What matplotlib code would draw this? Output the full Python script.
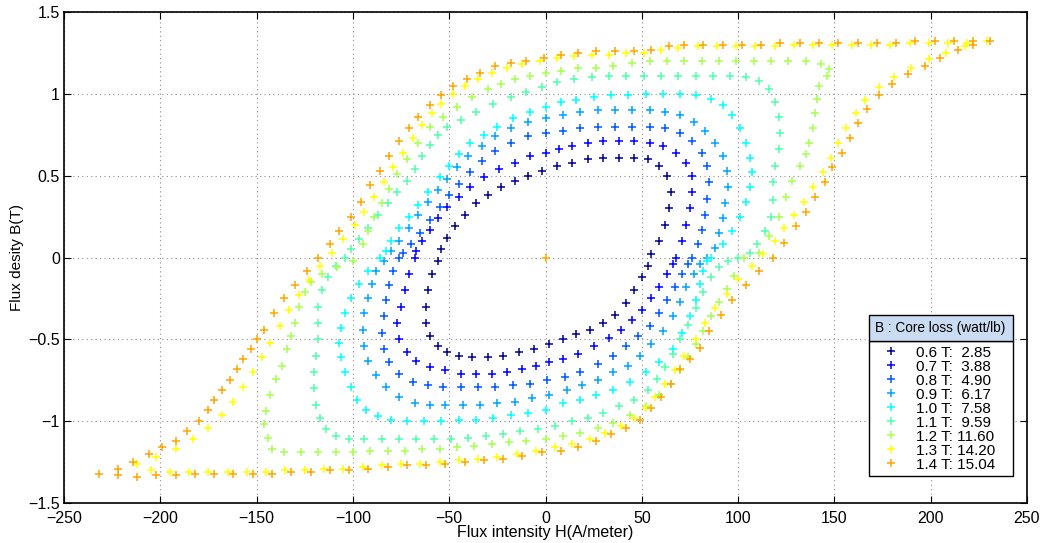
import matplotlib
matplotlib.use("Agg")
import matplotlib.pyplot as plt
from matplotlib.patches import Rectangle

# (H [A/m], B [T]) readings taken along each hysteresis loop
loop_06 = [
    (55, 0.02), (59, 0.10), (62, 0.20), (64, 0.30), (65, 0.40), (63, 0.50), (59, 0.56), (53, 0.60),
    (46, 0.61), (38, 0.61), (30, 0.61), (22, 0.60), (14, 0.58), (6, 0.56), (-2, 0.53), (-9, 0.50),
    (-16, 0.47), (-23, 0.43), (-30, 0.38), (-36, 0.33), (-42, 0.26), (-47, 0.19), (-51, 0.12), (-54, 0.05),
    (-56, -0.02), (-59, -0.10), (-61, -0.20), (-62, -0.30), (-62, -0.40), (-60, -0.48), (-56, -0.54), (-51, -0.58),
    (-45, -0.60), (-38, -0.61), (-30, -0.61), (-22, -0.60), (-14, -0.58), (-6, -0.56), (2, -0.53), (9, -0.50),
    (16, -0.47), (23, -0.44), (30, -0.40), (36, -0.35), (42, -0.28), (46, -0.20), (50, -0.12), (53, -0.05),
]
loop_07 = [
    (68, 0.00), (71, 0.10), (73, 0.20), (75, 0.30), (76, 0.40), (76, 0.50), (73, 0.58), (68, 0.64),
    (61, 0.68), (54, 0.70), (46, 0.71), (38, 0.71), (30, 0.71), (22, 0.70), (14, 0.68), (7, 0.66),
    (0, 0.64), (-8, 0.62), (-16, 0.58), (-24, 0.54), (-32, 0.49), (-39, 0.43), (-45, 0.37), (-51, 0.31),
    (-56, 0.24), (-60, 0.17), (-64, 0.10), (-67, 0.04),
    (-68, 0.00), (-71, -0.10), (-73, -0.20), (-75, -0.30), (-77, -0.40), (-76, -0.50), (-72, -0.58), (-67, -0.63),
    (-60, -0.67), (-52, -0.69), (-44, -0.71), (-36, -0.71), (-28, -0.71), (-20, -0.70), (-12, -0.68), (-5, -0.66),
    (2, -0.64), (9, -0.62), (17, -0.59), (25, -0.54), (33, -0.49), (39, -0.44), (45, -0.38), (50, -0.32),
    (55, -0.25), (59, -0.18), (63, -0.10), (66, -0.04),
]
loop_08 = [
    (76, 0.00), (79, 0.08), (81, 0.17), (83, 0.26), (84, 0.36), (85, 0.46), (84, 0.56), (81, 0.64),
    (76, 0.71), (70, 0.76), (62, 0.79), (54, 0.80), (45, 0.80), (36, 0.80), (27, 0.80), (18, 0.79),
    (9, 0.77), (0, 0.76), (-9, 0.74), (-18, 0.70), (-26, 0.65), (-33, 0.59), (-39, 0.52), (-45, 0.45),
    (-50, 0.38), (-55, 0.31), (-60, 0.23), (-65, 0.15), (-70, 0.08), (-74, 0.03),
    (-76, 0.00), (-79, -0.08), (-81, -0.17), (-83, -0.26), (-84, -0.36), (-85, -0.46), (-84, -0.56), (-81, -0.64),
    (-76, -0.71), (-69, -0.76), (-61, -0.78), (-53, -0.79), (-44, -0.79), (-35, -0.79), (-26, -0.79), (-17, -0.78),
    (-8, -0.77), (1, -0.75), (10, -0.73), (18, -0.70), (27, -0.65), (35, -0.60), (42, -0.54), (48, -0.48),
    (54, -0.42), (59, -0.34), (63, -0.26), (67, -0.18), (71, -0.10), (74, -0.04),
]
loop_09 = [
    (84, 0.00), (88, 0.06), (90, 0.15), (92, 0.24), (93, 0.33), (95, 0.43), (94, 0.53), (92, 0.62),
    (88, 0.70), (83, 0.77), (77, 0.83), (70, 0.87), (62, 0.89), (54, 0.90), (45, 0.90), (36, 0.90),
    (27, 0.90), (18, 0.89), (9, 0.87), (0, 0.85), (-9, 0.83), (-18, 0.79), (-26, 0.74), (-33, 0.68),
    (-40, 0.62), (-46, 0.55), (-51, 0.48), (-56, 0.41), (-61, 0.34), (-66, 0.26), (-71, 0.18), (-76, 0.10),
    (-80, 0.04),
    (-84, -0.02), (-88, -0.08), (-90, -0.16), (-92, -0.25), (-94, -0.34), (-95, -0.44), (-94, -0.54), (-92, -0.63),
    (-88, -0.72), (-83, -0.79), (-76, -0.85), (-68, -0.89), (-60, -0.90), (-52, -0.90), (-43, -0.90), (-34, -0.90),
    (-25, -0.89), (-16, -0.88), (-7, -0.86), (2, -0.84), (11, -0.81), (19, -0.78), (27, -0.75), (35, -0.70),
    (43, -0.66), (49, -0.60), (55, -0.53), (61, -0.45), (66, -0.36), (70, -0.27), (73, -0.18), (77, -0.10),
    (80, -0.04),
]
loop_10 = [
    (86, 0.00), (92, 0.08), (97, 0.16), (101, 0.25), (104, 0.34), (106, 0.43), (107, 0.52), (106, 0.61),
    (104, 0.70), (101, 0.79), (97, 0.87), (92, 0.93), (86, 0.97), (78, 0.99), (70, 1.00), (61, 1.00),
    (52, 1.00), (43, 0.99), (34, 0.99), (25, 0.98), (16, 0.96), (8, 0.95), (0, 0.92), (-8, 0.89),
    (-17, 0.85), (-25, 0.80), (-32, 0.75), (-39, 0.70), (-45, 0.63), (-50, 0.56), (-55, 0.49), (-61, 0.40),
    (-66, 0.32), (-71, 0.25), (-76, 0.18), (-80, 0.10), (-83, 0.04),
    (-86, 0.00), (-92, -0.08), (-97, -0.16), (-101, -0.25), (-104, -0.34), (-106, -0.43), (-107, -0.52), (-106, -0.61),
    (-104, -0.70), (-101, -0.79), (-98, -0.87), (-93, -0.93), (-87, -0.97), (-80, -0.99), (-72, -1.00), (-63, -1.00),
    (-54, -1.00), (-45, -0.99), (-36, -0.99), (-27, -0.98), (-18, -0.96), (-9, -0.95), (0, -0.93), (9, -0.89),
    (18, -0.87), (26, -0.84), (35, -0.81), (44, -0.76), (52, -0.70), (59, -0.64), (66, -0.56), (71, -0.46),
    (75, -0.36), (78, -0.26), (80, -0.16), (82, -0.08), (84, -0.02),
]
loop_11 = [
    (100, 0.00), (106, 0.03), (110, 0.08), (114, 0.16), (117, 0.25), (118, 0.35), (118, 0.46), (119, 0.56),
    (121, 0.66), (122, 0.76), (121, 0.86), (119, 0.95), (116, 1.03), (111, 1.08), (104, 1.10), (96, 1.11),
    (87, 1.11), (78, 1.11), (69, 1.11), (60, 1.11), (51, 1.11), (42, 1.11), (33, 1.11), (24, 1.10),
    (15, 1.09), (6, 1.07), (-2, 1.04), (-10, 1.01), (-18, 0.98), (-27, 0.94), (-36, 0.89), (-44, 0.84),
    (-51, 0.80), (-56, 0.75), (-60, 0.69), (-64, 0.62), (-68, 0.54), (-72, 0.47), (-77, 0.40), (-82, 0.33),
    (-87, 0.26), (-92, 0.18), (-97, 0.11), (-101, 0.05),
    (-104, 0.00), (-109, -0.05), (-113, -0.12), (-116, -0.20), (-118, -0.30), (-118, -0.40), (-118, -0.50), (-119, -0.60),
    (-120, -0.70), (-120, -0.80), (-119, -0.90), (-117, -0.98), (-114, -1.05), (-109, -1.09), (-102, -1.11), (-94, -1.11),
    (-85, -1.11), (-76, -1.11), (-67, -1.11), (-58, -1.11), (-49, -1.11), (-40, -1.10), (-31, -1.09), (-22, -1.08),
    (-13, -1.06), (-4, -1.05), (5, -1.03), (14, -1.00), (22, -0.98), (30, -0.95), (38, -0.91), (46, -0.87),
    (53, -0.81), (58, -0.74), (62, -0.67), (66, -0.59), (70, -0.50), (74, -0.41), (78, -0.31), (82, -0.21),
    (86, -0.12), (90, -0.06), (95, -0.02),
]
loop_12 = [
    (103, 0.00), (111, 0.03), (116, 0.13), (121, 0.25), (125, 0.37), (128, 0.47), (132, 0.56), (135, 0.63),
    (137, 0.70), (139, 0.79), (140, 0.88), (141, 0.97), (142, 1.05), (146, 1.11), (147, 1.15), (143, 1.18),
    (135, 1.20), (126, 1.20), (117, 1.20), (108, 1.20), (99, 1.20), (90, 1.20), (81, 1.20), (72, 1.20),
    (63, 1.20), (54, 1.20), (45, 1.19), (35, 1.17), (26, 1.16), (17, 1.16), (8, 1.14), (0, 1.13),
    (-8, 1.11), (-16, 1.09), (-23, 1.06), (-30, 1.03), (-38, 0.98), (-46, 0.92), (-53, 0.86), (-60, 0.80),
    (-66, 0.70), (-72, 0.60), (-77, 0.51), (-81, 0.42), (-85, 0.33), (-89, 0.25), (-92, 0.16), (-95, 0.08),
    (-100, -0.02), (-108, -0.06), (-116, -0.10), (-122, -0.15), (-125, -0.21), (-128, -0.30), (-130, -0.40), (-132, -0.48),
    (-134, -0.56), (-137, -0.66), (-140, -0.74), (-143, -0.84), (-145, -0.94), (-146, -1.02), (-144, -1.10), (-142, -1.17),
    (-136, -1.19), (-127, -1.19), (-118, -1.19), (-109, -1.19), (-100, -1.19), (-91, -1.18), (-82, -1.18), (-73, -1.18),
    (-64, -1.17), (-55, -1.17), (-46, -1.16), (-37, -1.15), (-28, -1.14), (-19, -1.13), (-10, -1.12), (0, -1.11),
    (9, -1.09), (18, -1.07), (27, -1.04), (35, -1.01), (44, -0.96), (52, -0.91), (59, -0.84), (65, -0.77),
    (70, -0.69), (74, -0.61), (78, -0.53), (82, -0.45), (86, -0.36), (90, -0.27), (94, -0.19), (98, -0.11),
]
loop_13 = [
    (229, 1.32), (219, 1.31), (209, 1.31), (199, 1.31), (189, 1.31), (179, 1.30), (169, 1.30), (159, 1.30),
    (149, 1.30), (139, 1.30), (129, 1.30), (119, 1.29), (109, 1.29), (99, 1.29), (89, 1.29), (79, 1.29),
    (69, 1.28), (60, 1.27), (51, 1.25), (42, 1.25), (33, 1.24), (24, 1.24), (15, 1.23), (6, 1.22),
    (-3, 1.20), (-12, 1.18), (-20, 1.16), (-28, 1.13), (-35, 1.09), (-42, 1.05), (-48, 1.00), (-54, 0.94),
    (-59, 0.88), (-64, 0.81), (-69, 0.73), (-74, 0.64), (-79, 0.55), (-84, 0.46), (-89, 0.37), (-94, 0.28),
    (-99, 0.20), (-105, 0.11), (-111, 0.03), (-117, -0.05), (-123, -0.14), (-128, -0.23), (-133, -0.32), (-138, -0.42),
    (-143, -0.52), (-147, -0.61), (-152, -0.70), (-157, -0.79), (-162, -0.88), (-168, -0.96), (-175, -1.04), (-183, -1.11),
    (-192, -1.17), (-202, -1.22), (-212, -1.26),
    (-205, -1.30), (-195, -1.31), (-185, -1.31), (-175, -1.31), (-165, -1.31), (-155, -1.31), (-145, -1.31), (-135, -1.30),
    (-125, -1.30), (-115, -1.29), (-105, -1.29), (-95, -1.28), (-85, -1.27), (-75, -1.26), (-65, -1.26), (-55, -1.25),
    (-45, -1.24), (-35, -1.23), (-25, -1.22), (-15, -1.20), (-5, -1.18), (5, -1.16), (14, -1.14), (23, -1.11),
    (31, -1.07), (39, -1.03), (46, -0.98), (52, -0.92), (57, -0.85), (62, -0.77), (67, -0.69), (72, -0.60),
    (78, -0.50), (83, -0.40), (88, -0.31), (94, -0.22), (100, -0.13), (107, -0.05), (113, 0.02), (119, 0.10),
    (124, 0.18), (129, 0.26), (134, 0.34), (139, 0.43), (144, 0.52), (148, 0.61), (152, 0.70), (156, 0.79),
    (161, 0.88), (166, 0.96), (173, 1.04), (181, 1.10), (190, 1.16), (199, 1.21), (208, 1.25), (218, 1.29),
]
loop_14 = [
    (231, 1.32), (222, 1.32), (212, 1.32), (202, 1.32), (192, 1.32), (182, 1.31), (172, 1.31), (162, 1.31),
    (152, 1.31), (142, 1.31), (132, 1.31), (122, 1.31), (112, 1.30), (102, 1.30), (92, 1.30), (82, 1.30),
    (72, 1.30), (64, 1.29), (55, 1.27), (46, 1.26), (36, 1.26), (26, 1.26), (17, 1.25), (8, 1.24),
    (-1, 1.22), (-10, 1.20), (-18, 1.19), (-26, 1.17), (-34, 1.13), (-41, 1.09), (-48, 1.05), (-54, 0.99),
    (-60, 0.93), (-66, 0.86), (-71, 0.79), (-76, 0.71), (-81, 0.62), (-86, 0.53), (-91, 0.44), (-96, 0.34),
    (-101, 0.25), (-107, 0.16), (-112, 0.08), (-118, 0.00), (-124, -0.08), (-130, -0.17), (-136, -0.25), (-141, -0.34),
    (-146, -0.44), (-150, -0.50), (-153, -0.56), (-157, -0.62), (-160, -0.68), (-164, -0.75), (-168, -0.81), (-172, -0.87),
    (-175, -0.93), (-180, -1.00), (-186, -1.06), (-192, -1.12), (-199, -1.16), (-206, -1.20), (-214, -1.25), (-222, -1.29),
    (-232, -1.32),
    (-222, -1.33), (-212, -1.34), (-202, -1.33), (-192, -1.33), (-182, -1.32), (-172, -1.32), (-162, -1.32), (-152, -1.32),
    (-142, -1.32), (-132, -1.31), (-122, -1.31), (-112, -1.30), (-102, -1.30), (-92, -1.29), (-82, -1.28), (-72, -1.27),
    (-62, -1.27), (-52, -1.26), (-42, -1.25), (-32, -1.24), (-22, -1.23), (-12, -1.21), (-2, -1.19), (8, -1.18),
    (17, -1.16), (26, -1.12), (34, -1.08), (42, -1.04), (49, -0.99), (55, -0.92), (60, -0.85), (65, -0.77),
    (70, -0.68), (75, -0.62), (80, -0.55), (85, -0.45), (91, -0.35), (97, -0.26), (104, -0.17), (111, -0.08),
    (118, 0.00), (124, 0.09), (130, 0.19), (135, 0.28), (140, 0.37), (145, 0.46), (149, 0.55), (154, 0.64),
    (158, 0.73), (162, 0.82), (167, 0.91), (173, 0.99), (180, 1.06), (188, 1.12), (197, 1.17), (205, 1.22),
    (214, 1.27), (222, 1.30),
]
stray_points = [(0, 0)]

loops = [loop_06, loop_07, loop_08, loop_09, loop_10, loop_11, loop_12, loop_13, loop_14]
labels = ["0.6 T:  2.85", "0.7 T:  3.88", "0.8 T:  4.90", "0.9 T:  6.17", "1.0 T:  7.58",
          "1.1 T:  9.59", "1.2 T: 11.60", "1.3 T: 14.20", "1.4 T: 15.04"]
colors = ["#00008f", "#0000ff", "#0058ff", "#00a4ff", "#00ffff",
          "#50ffae", "#a6ff52", "#ffff00", "#ffa600"]

W, H = 1051, 543
fig = plt.figure(figsize=(W / 100, H / 100), dpi=100)
ax = fig.add_axes([64 / W, 40 / H, 963 / W, 491 / H])

handles = []
for pts, lab, col in zip(loops, labels, colors):
    hs = [p[0] for p in pts]
    bs = [p[1] for p in pts]
    ln, = ax.plot(hs, bs, linestyle="none", marker="+", ms=6, mew=1.1, color=col, label=lab)
    handles.append(ln)
ax.plot([p[0] for p in stray_points], [p[1] for p in stray_points], linestyle="none",
        marker="+", ms=6, mew=1.1, color=colors[-1])

ax.set_xlim(-250, 250)
ax.set_ylim(-1.5, 1.5)
xt = list(range(-250, 251, 50))
ax.set_xticks(xt)
ax.set_xticklabels([str(v).replace("-", "\u2212") for v in xt],
                   family=["Liberation Sans Narrow", "Liberation Sans"], fontsize=11.5)
yt = [-1.5, -1, -0.5, 0, 0.5, 1, 1.5]
ax.set_yticks(yt)
ax.set_yticklabels(["\u22121.5", "\u22121", "\u22120.5", "0", "0.5", "1", "1.5"],
                   family="Liberation Sans", fontsize=11.5)
ax.tick_params(direction="in", top=True, right=True, length=5, width=0.8)
ax.tick_params(axis="x", pad=6)
ax.tick_params(axis="y", pad=3)
ax.grid(True, linestyle=(0, (1, 3)), color="#8c8c8c", linewidth=0.8)
ax.set_axisbelow(True)
for s in ax.spines.values():
    s.set_linewidth(1.2)

ax.set_xlabel("Flux intensity H(A/meter)", family=["Liberation Sans Narrow", "Liberation Sans"], fontsize=11.5)
ax.xaxis.set_label_coords(0.5, -0.045)
ax.set_ylabel("Flux desity B(T)", family="Liberation Sans", fontsize=11)
ax.yaxis.set_label_coords(-0.042, 0.5)

# legend: entries box plus a separate shaded title box above it
leg = ax.legend(handles=handles, loc="upper left",
                bbox_to_anchor=(869 / W, 62 / H, 144 / W, 140 / H), bbox_transform=fig.transFigure,
                mode="expand", frameon=True, fancybox=False, framealpha=1, edgecolor="black",
                borderpad=0.3, borderaxespad=0, handlelength=2.3, handletextpad=0.5,
                labelspacing=0.0, prop={"family": "Liberation Sans", "size": 11})
leg.get_frame().set_linewidth(1.0)

fig.patches.append(Rectangle((869 / W, (H - 341) / H), 144 / W, 26 / H, transform=fig.transFigure,
                             facecolor="#c9dcf2", edgecolor="black", linewidth=1.0, zorder=5))
fig.text(875 / W, (H - 328) / H, "B : Core loss (watt/lb)", ha="left", va="center",
         family="Liberation Sans", fontsize=9.8, zorder=6)

fig.savefig("out.png", dpi=100)
